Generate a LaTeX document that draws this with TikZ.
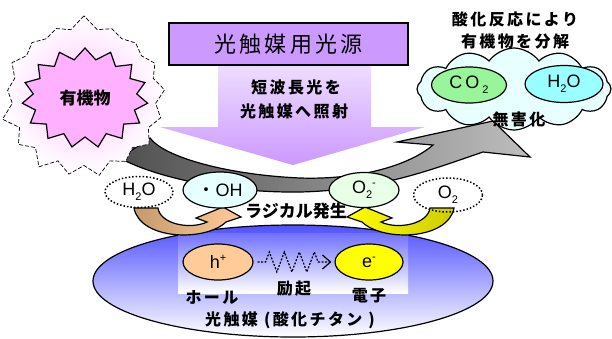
\documentclass[tikz,border=0pt]{standalone}
\usepackage{fontspec}
\setmainfont{Liberation Sans}
\newfontfamily\jp{Noto Sans CJK JP}
\newfontfamily\jps[LetterSpace=15]{Noto Sans CJK JP}
\newfontfamily\lat{Liberation Sans}
\usetikzlibrary{shapes.symbols,shapes.geometric,arrows.meta,decorations.pathmorphing}
\definecolor{titlepurple}{HTML}{CC99FF}
\definecolor{arrowtop}{HTML}{EEDDFF}
\definecolor{pinkstar}{HTML}{FFB0FF}
\definecolor{pinkglow}{HTML}{FFC4FF}
\definecolor{cloudfill}{HTML}{E8FFFF}
\definecolor{cogreen}{HTML}{99F599}
\definecolor{watercyan}{HTML}{99FFFF}
\definecolor{ohfill}{HTML}{E6FFFF}
\definecolor{osfill}{HTML}{E8FFE8}
\definecolor{tandark}{HTML}{C49A6C}
\definecolor{tanlight}{HTML}{FFCC99}
\definecolor{ydark}{HTML}{CCCC00}
\definecolor{ylight}{HTML}{FFFF00}
\definecolor{bluetop}{HTML}{5050FF}
\definecolor{rectop}{HTML}{7070FF}
\definecolor{holefill}{HTML}{FFCC99}
\definecolor{graydark}{HTML}{505050}
\definecolor{graylight}{HTML}{BEBEBE}
\newcommand\mysub[1]{\raisebox{-5pt}{\fontsize{11}{11}\selectfont #1}}
\newcommand\mysup[1]{\raisebox{7pt}{\fontsize{11}{11}\selectfont #1}}
\begin{document}
\begin{tikzpicture}[x=1pt,y=-1pt,
  jlabel/.style={font=\jps\bfseries\fontsize{16}{16}\selectfont, inner sep=0pt},
  chem/.style={font=\lat\fontsize{18}{18}\selectfont},
  oval/.style={ellipse, draw, line width=1.2pt, inner sep=0pt, chem},
  dotoval/.style={ellipse, draw, line width=1.5pt, dash pattern=on 1.5pt off 2pt, inner sep=0pt, chem},
  outlined/.style={draw=black, line width=1.2pt}]

\useasboundingbox (0,0) rectangle (612,338);
\fill[white] (0,0) rectangle (612,338);

% photocatalyst body
\node[ellipse, outlined, minimum width=400pt, minimum height=112pt, top color=bluetop, bottom color=white, inner sep=0pt] (cat) at (293,281) {};
\shade[top color=rectop, bottom color=white] (178,233) rectangle (408,293);

% big gray arrow
\path[outlined, left color=graydark, right color=graylight]
 (120,158) -- (150,138) .. controls (165,158) and (230,175) .. (300,178)
 .. controls (360,180) and (410,165) .. (433,145) -- (397,142) -- (493,121)
 -- (530,157) -- (483,152)
 .. controls (430,170) and (380,190) .. (300,192)
 .. controls (220,193) and (150,175) .. (120,158) -- cycle;

% down arrow
\path[top color=arrowtop, bottom color=titlepurple]
 (218,65) -- (371,65) -- (371,127) -- (425,127) -- (293,165) -- (160,127) -- (218,127) -- cycle;
\node[draw, line width=1.5pt, fill=titlepurple, minimum width=239pt, minimum height=42pt, inner sep=0pt,
  font=\jps\fontsize{22}{22}\selectfont] (title) at (288.5,44) {光触媒用光源};
\node[jlabel] (t1) at (296,87) {短波長光を};
\node[jlabel] (t2) at (294,111) {光触媒へ照射};

% organic matter starburst
\node[starburst, starburst points=17, starburst point height=14pt, random starburst=7, draw,
  line width=0.7pt, dash pattern=on 4pt off 2pt, minimum width=172pt, minimum height=165pt,
  inner color=pinkglow, outer color=white] (glow) at (84,97) {};
\node[starburst, starburst points=15, starburst point height=11pt, random starburst=0, outlined,
  fill=pinkstar, minimum width=126pt, minimum height=100pt, inner sep=0pt,
  font=\jp\bfseries\fontsize{17}{17}\selectfont] (org) at (85,98) {有機物};

% cloud
\node[cloud, cloud puffs=12, cloud puff arc=110, cloud ignores aspect, outlined, fill=cloudfill,
  minimum width=194pt, minimum height=82pt, inner sep=0pt] (cloud) at (514,89) {};
\node[oval, fill=cogreen, minimum width=75pt, minimum height=36pt] (co2) at (469,85) {C\,O\,\mysub{2}};
\node[oval, fill=watercyan, minimum width=78pt, minimum height=37pt] (h2o) at (564,84) {H\mysub{2}O};
\node[jlabel] (harm) at (519,119) {無害化};
\node[jlabel] (d1) at (515,19) {酸化反応により};
\node[jlabel] (d2) at (515,41) {有機物を分解};

% small curved arrows
\path[outlined, left color=tandark, right color=tanlight]
 (134,208) -- (158,208) .. controls (160,224) and (190,230) .. (207,222)
 -- (196,218) -- (223,207) -- (241,217) -- (226,222)
 .. controls (205,242) and (140,240) .. (134,208) -- cycle;
\path[outlined, left color=ylight, right color=ydark]
 (454,208) -- (430,208) .. controls (428,224) and (398,230) .. (381,222)
 -- (392,218) -- (365,207) -- (347,217) -- (362,222)
 .. controls (383,242) and (448,240) .. (454,208) -- cycle;

% radicals
\node[dotoval, minimum width=68pt, minimum height=31pt] (hw) at (139,192) {H\mysub{2}O};
\node[dotoval, minimum width=69pt, minimum height=34pt] (ox) at (448,195) {O\mysub{2}};
\node[oval, fill=ohfill, minimum width=74pt, minimum height=36pt] (oh) at (220,190) {{\jp ・}OH};
\node[oval, fill=osfill, minimum width=70pt, minimum height=35pt] (os) at (364,190) {O\mysub{2}\mysup{-}};
\node[font=\jp\bfseries\fontsize{17}{17}\selectfont, inner sep=0pt] (rad) at (296,211) {ラジカル発生};

% hole and electron
\node[oval, fill=holefill, minimum width=70pt, minimum height=36pt] (hp) at (218,262) {h\mysup{+}};
\node[oval, fill=ylight, minimum width=68pt, minimum height=36pt] (em) at (369,262) {e\mysup{-}};
\draw[line width=1.2pt, dash pattern=on 2pt off 1.5pt, shorten <=4pt, shorten >=3pt,
  -{Straight Barb[length=8pt,width=14pt,line width=1.2pt]},
  decorate, decoration={zigzag, amplitude=10pt, segment length=15pt, pre length=12pt, post length=10pt}]
  (hp.east) -- (em.west);
\node[jlabel] (hl) at (212,297) {ホール};
\node[jlabel] (ex) at (294,289) {励起};
\node[jlabel] (el) at (369,296) {電子};
\node[jlabel] (tio) at (290,320) {光触媒 (酸化チタン )};
\end{tikzpicture}
\end{document}
